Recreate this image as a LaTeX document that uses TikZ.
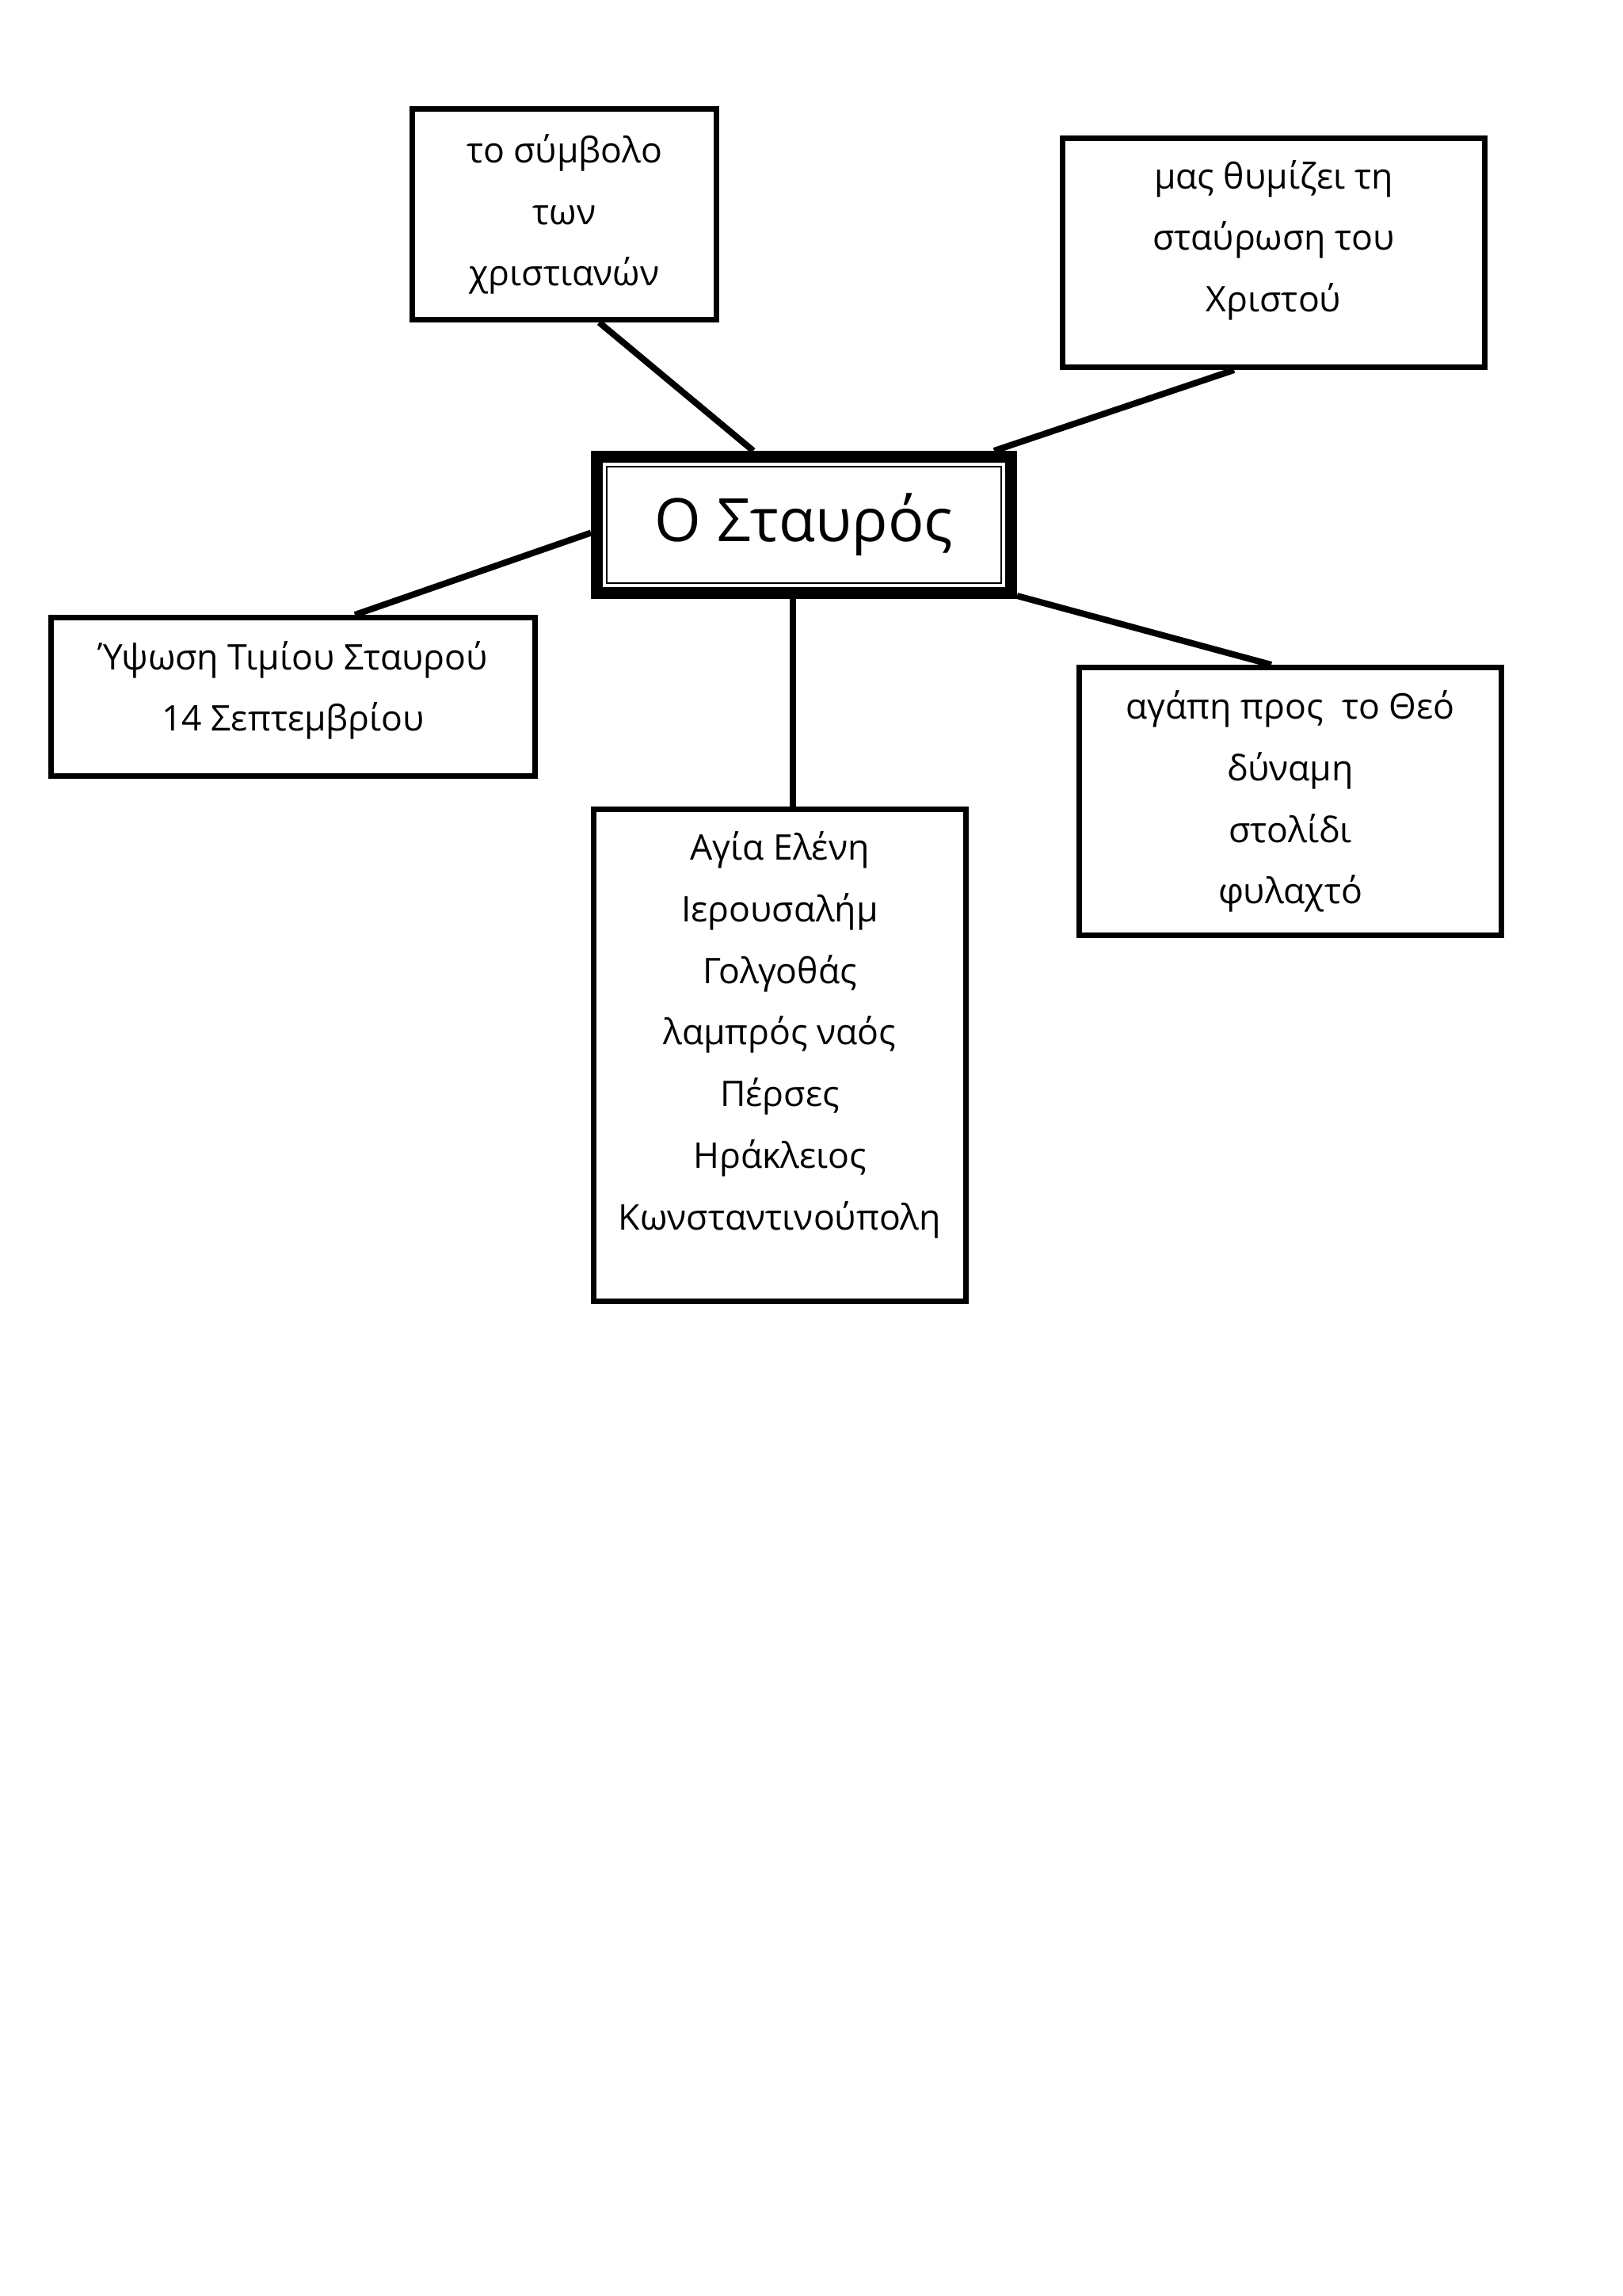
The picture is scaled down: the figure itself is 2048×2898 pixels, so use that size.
\documentclass[tikz,border=0pt]{standalone}
\usepackage{fontspec}
\setmainfont{Open Sans}
\usetikzlibrary{calc}
\newlength\pxu
\setlength\pxu{0.010254cm}
\tikzset{
  box/.style={draw, line width=7\pxu, align=center, inner sep=0pt,
    font=\fontsize{13pt}{22.7pt}\selectfont},
  link/.style={line width=8\pxu},
}
\begin{document}
\begin{tikzpicture}[x=\pxu, y=-\pxu]
\fill[white] (0,0) rectangle (2048,2898);
\useasboundingbox (0,0) rectangle (2048,2898);
\begin{scope}[shift={(-6,-4)}]
% central node
\node[draw, line width=15\pxu, minimum width=523\pxu, minimum height=172\pxu,
      inner sep=0pt, font=\fontsize{22pt}{26pt}\selectfont] (cen) at (1021,666.5) {Ο Σταυρός};
\draw[line width=2.6\pxu] ($(cen.north west)+(20,20)$) rectangle ($(cen.south east)+(-20,-20)$);

% outer boxes
\node[box, minimum width=384\pxu, minimum height=266\pxu] (top) at (718.5,274.5)
  {το σύμβολο\\των\\χριστιανών};
\node[box, minimum width=533\pxu, minimum height=289\pxu] (tr) at (1614,323)
  {μας θυμίζει τη\\σταύρωση του\\Χριστού\rule[-42\pxu]{0pt}{42\pxu}};
\node[box, minimum width=611\pxu, minimum height=200\pxu] (lft) at (376,883.5)
  {Ύψωση Τιμίου Σταυρού\\14 Σεπτεμβρίου\rule[-27\pxu]{0pt}{27\pxu}};
\node[box, minimum width=533\pxu, minimum height=338\pxu] (rgt) at (1635,1015.5)
  {αγάπη προς\ \ το Θεό\\δύναμη\\στολίδι\\φυλαχτό};
\node[box, minimum width=470\pxu, minimum height=621\pxu] (bot) at (990.5,1336)
  {Αγία Ελένη\\Ιερουσαλήμ\\Γολγοθάς\\λαμπρός ναός\\Πέρσες\\Ηράκλειος\\Κωνσταντινούπολη\rule[-62\pxu]{0pt}{62\pxu}};

% connectors
\coordinate (vx) at (1007,0);
\draw[link] ($(top.south)+(44,0)$) -- ($(cen.north)+(-64,0)$);
\draw[link] ($(tr.south)+(-50,0)$) -- ($(cen.north)+(240,0)$);
\draw[link] ($(cen.west)+(0,10)$) -- ($(lft.north)+(78,0)$);
\draw[link] ($(cen.south east)+(0,-4)$) -- ($(rgt.north)+(-24,0)$);
\draw[link] (cen.south -| vx) -- (bot.north -| vx);
\end{scope}
\end{tikzpicture}
\end{document}
